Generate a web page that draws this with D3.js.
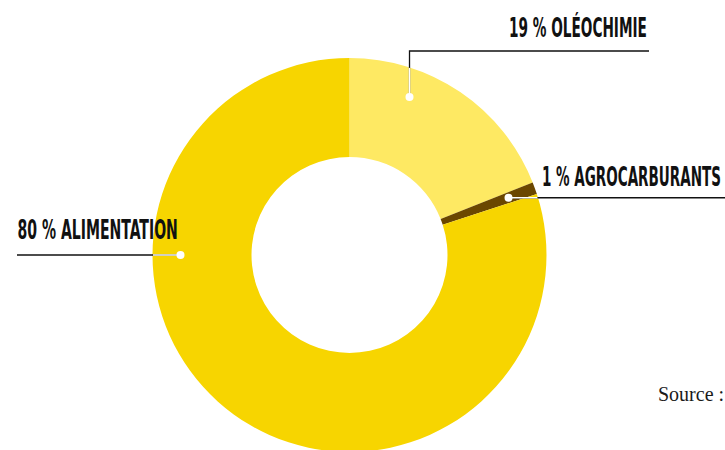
<!DOCTYPE html>
<html><head><meta charset="utf-8">
<script src="https://cdn.jsdelivr.net/npm/d3@7"></script>
<style>html,body{margin:0;padding:0;background:#fff;overflow:hidden}</style>
</head><body>
<svg id="c" width="725" height="450"></svg>
<script>
// Data
const categories = ["Oléochimie", "Agrocarburants", "Alimentation"];
const values = [19, 1, 80];
const labels = ["19 % OLÉOCHIMIE", "1 % AGROCARBURANTS", "80 % ALIMENTATION"];
const colors = ["#FEE963", "#6B4700", "#F7D500"];

const svg = d3.select("#c");
const cx = 349.5, cy = 255, rOut = 197, rIn = 98, rDot = 169;
const g = svg.append("g").attr("transform", `translate(${cx},${cy})`);

const pie = d3.pie().sort(null).value(d => d)(values);
const arc = d3.arc().innerRadius(rIn).outerRadius(rOut);

g.selectAll("path.slice").data(pie).join("path")
  .attr("class", "slice")
  .attr("d", arc)
  .attr("fill", (d, i) => colors[i]);

const defs = svg.append("defs");
defs.append("clipPath").attr("id", "ring")
  .append("path").attr("d", d3.arc().innerRadius(rIn).outerRadius(rOut - 0.5)({startAngle: 0, endAngle: 2 * Math.PI}));

const layout = [
  {angle: 20.8, text: {x: 509, y: 37, len: 138}, path: (p) => [[p[0], p[1]], [p[0], 51 - cy], [649 - cx, 51 - cy]]},
  {angle: null, text: {x: 542, y: 186, len: 179}, path: (p) => [[p[0], p[1]], [725 - cx, p[1]]]},
  {angle: 270, text: {x: 17.5, y: 239, len: 160.5}, path: (p) => [[p[0], p[1]], [17 - cx, p[1]]]}
];

const line = d3.line();
pie.forEach((d, i) => {
  const L = layout[i];
  const a = L.angle === null ? (d.startAngle + d.endAngle) / 2 : L.angle * Math.PI / 180;
  const p = [rDot * Math.sin(a), -rDot * Math.cos(a)];
  const pts = L.path(p);
  g.append("path").attr("d", line(pts)).attr("fill", "none").attr("stroke", "#111").attr("stroke-width", 1.3);
  g.append("path").attr("d", line(pts)).attr("fill", "none").attr("stroke", "#fff").attr("stroke-width", 1.5)
    .attr("clip-path", "url(#ring)");
  g.append("circle").attr("cx", p[0]).attr("cy", p[1]).attr("r", 4).attr("fill", "#fff");
  const t = svg.append("text")
    .attr("x", 0).attr("y", 0)
    .style("font-family", "'DejaVu Sans Condensed', 'Liberation Sans Narrow', sans-serif")
    .style("font-weight", "bold")
    .style("font-size", "26px")
    .attr("fill", "#111")
    .text(labels[i]);
  const w = t.node().getComputedTextLength();
  t.attr("transform", `translate(${L.text.x},${L.text.y}) scale(${L.text.len / w},1)`);
});

svg.append("text").attr("x", 658).attr("y", 401)
  .style("font-family", "'Liberation Serif', serif")
  .style("font-size", "20px")
  .attr("fill", "#1a1a1a")
  .text("Source :");
</script>
</body></html>
